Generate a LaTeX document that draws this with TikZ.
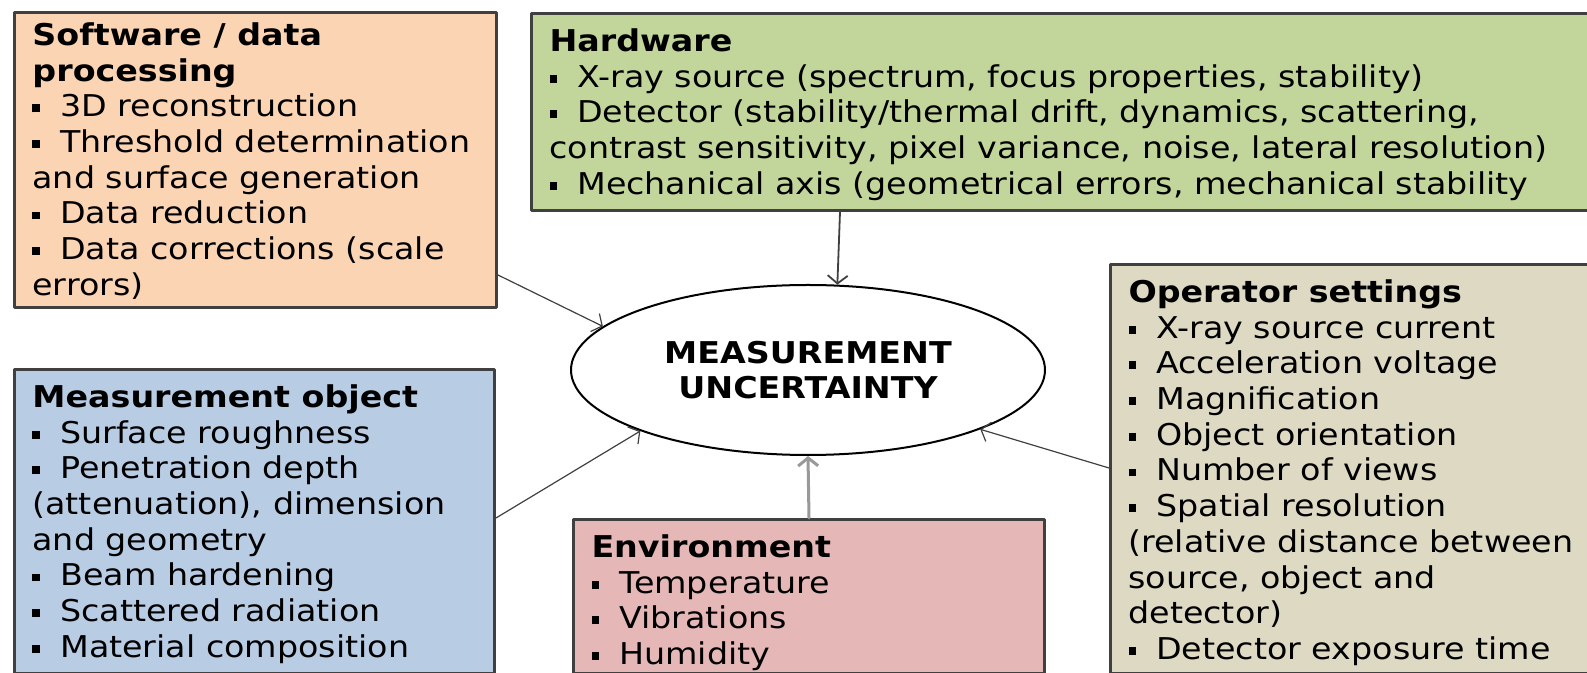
\documentclass[tikz,border=0pt]{standalone}
\usepackage{fontspec}
\setmainfont{DejaVu Sans}[FakeStretch=1.11]
\usepackage{tikz}
\usetikzlibrary{arrows.meta}
\usetikzlibrary{shapes.geometric}
\definecolor{softpeach}{HTML}{FBD4B4}
\definecolor{hardgreen}{HTML}{C2D69B}
\definecolor{objblue}{HTML}{B8CCE4}
\definecolor{envpink}{HTML}{E5B8B7}
\definecolor{opertan}{HTML}{DDD9C3}
\newcommand{\sqbul}{\rule[2.3pt]{3.9pt}{3.9pt}\hspace{10pt}}
\newcommand{\firstline}{\rule{0pt}{11.5pt}}
\tikzset{
  factor/.style={draw=black!75, line width=1.5pt, anchor=north west, inner xsep=9pt, inner ysep=7.5pt, font=\fontsize{15}{17.85}\selectfont},
  flow/.style={draw=black!75, line width=0.6pt, -{Straight Barb[length=4pt,width=10pt]}}
}
\begin{document}
\begin{tikzpicture}[line cap=round,line join=round, x=0.5pt,y=-0.5pt]
\useasboundingbox (0,0) rectangle (1587,673);
\clip (0,0) rectangle (1587,673);
\node [factor, fill=softpeach, inner ysep=5pt] (soft) at (13,11) {\parbox[t][137.5pt][t]{223pt}{\raggedright\firstline\textbf{Software / data}\\\textbf{processing}\\\sqbul 3D reconstruction\\\sqbul Threshold determination\\and surface generation\\\sqbul Data reduction\\\sqbul Data corrections (scale\\errors)}};
\node [factor, fill=hardgreen] (hard) at (530,12) {\parbox[t][83.5pt][t]{517pt}{\raggedright\firstline\textbf{Hardware}\\\sqbul X-ray source (spectrum, focus properties, stability)\\\sqbul Detector (stability/thermal drift, dynamics, scattering,\\contrast sensitivity, pixel variance, noise, lateral resolution)\\\sqbul Mechanical axis (geometrical errors, mechanical stability}};
\node [factor, fill=objblue] (obj) at (13,368) {\parbox[t][137pt][t]{222pt}{\raggedright\firstline\textbf{Measurement object}\\\sqbul Surface roughness\\\sqbul Penetration depth\\(attenuation), dimension\\and geometry\\\sqbul Beam hardening\\\sqbul Scattered radiation\\\sqbul Material composition}};
\node [factor, fill=envpink] (env) at (572,518) {\parbox[t][62pt][t]{217.5pt}{\raggedright\firstline\textbf{Environment}\\\sqbul Temperature\\\sqbul Vibrations\\\sqbul Humidity}};
\node [factor, fill=opertan] (oper) at (1109,263) {\parbox[t][189.5pt][t]{227.5pt}{\raggedright\firstline\textbf{Operator settings}\\\sqbul X-ray source current\\\sqbul Acceleration voltage\\\sqbul Magnification\\\sqbul Object orientation\\\sqbul Number of views\\\sqbul Spatial resolution\\(relative distance between\\source, object and\\detector)\\\sqbul Detector exposure time}};
\node [ellipse, draw=black, line width=1pt, fill=white, minimum width=237pt, minimum height=85pt, inner sep=0pt, align=center, font=\fontsize{15}{17.5}\selectfont\bfseries] (unc) at (808,370) {MEASUREMENT\\UNCERTAINTY};
\draw [flow] ([yshift=-132pt]soft.north east) -- (unc.168);
\draw [flow, line width=0.9pt] ([xshift=155pt]hard.south west) -- (unc.71);
\draw [flow] ([yshift=-75pt]obj.north east) -- (unc.200);
\draw [flow] ([yshift=-102.5pt]oper.north west) -- (unc.341);
\draw [flow, draw=black!40, line width=1.5pt] (env.north) -- (unc.south);
\end{tikzpicture}
\end{document}
